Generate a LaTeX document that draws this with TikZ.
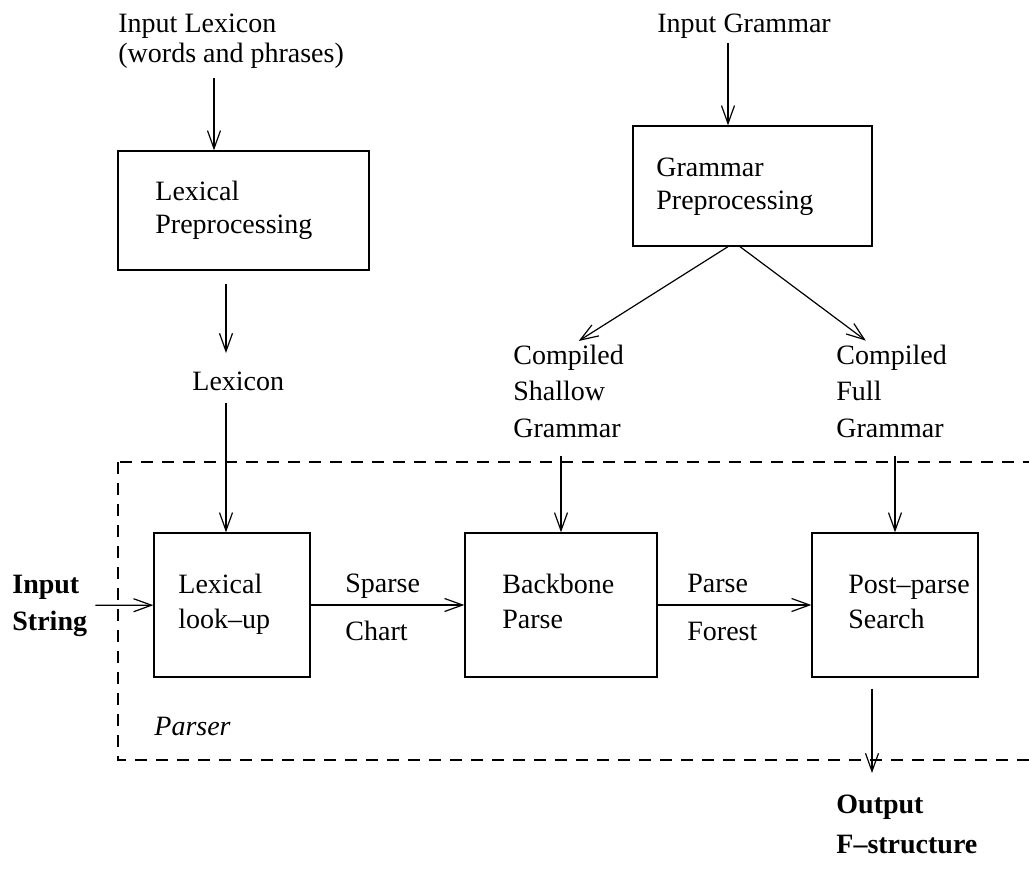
\documentclass[tikz,border=0pt]{standalone}
\usepackage{fontspec}
\setmainfont{Liberation Serif}
\usetikzlibrary{arrows.meta}

\tikzset{
  box/.style={draw, line width=0.65pt, inner sep=0pt},
  txt/.style={align=left, inner sep=0pt, anchor=base west},
  flow/.style={-{Straight Barb[length=9pt,width=6.5pt]}, line width=0.6pt},
}
\newcommand{\sz}[1]{\fontsize{14}{#1}\selectfont}

\begin{document}
\begin{tikzpicture}[x=0.5pt, y=-0.5pt]
    \useasboundingbox (0,0) rectangle (1029,884);

    % inputs and outputs (placed at the baseline of the last line)
    \node[txt, font=\sz{15}] (inlex) at (118, 62) {Input Lexicon\\(words and phrases)};
    \node[txt, font=\sz{17}] (ingram) at (657, 32) {Input Grammar};
    \node[txt, font=\sz{17}] (lexicon) at (192, 390) {Lexicon};
    \node[txt, font=\sz{18.25}] (shallow) at (513, 437) {Compiled\\Shallow\\Grammar};
    \node[txt, font=\sz{18.25}] (full) at (836, 437) {Compiled\\Full\\Grammar};
    \node[txt, font=\sz{18.5}\bfseries] (instring) at (12, 630) {Input\\String};
    \node[txt, font=\sz{20}\bfseries] (output) at (836, 853) {Output\\F--structure};
    \node[txt, font=\sz{24}] (chart) at (345, 640) {Sparse\\Chart};
    \node[txt, font=\sz{24}] (forest) at (687, 640) {Parse\\Forest};
    \node[txt, font=\sz{17}\itshape] (parser) at (154, 735) {Parser};

    % boxes
    \node[box, minimum width=125.5pt, minimum height=59.5pt] (lexpre) at (243.5, 210.5) {};
    \node[box, minimum width=119.5pt, minimum height=60pt] (grampre) at (752.5, 186) {};
    \node[box, minimum width=78pt, minimum height=72pt] (lexlook) at (232, 605) {};
    \node[box, minimum width=96pt, minimum height=72pt] (backbone) at (561, 605) {};
    \node[box, minimum width=83pt, minimum height=72pt] (postparse) at (895, 605) {};

    \node[txt, font=\sz{16.5}] (lexpre-t) at (155, 233) {Lexical\\Preprocessing};
    \node[txt, font=\sz{16.5}] (grampre-t) at (656, 209) {Grammar\\Preprocessing};
    \node[txt, font=\sz{17.5}] (lexlook-t) at (178, 628) {Lexical\\look--up};
    \node[txt, font=\sz{17.5}] (backbone-t) at (502, 628) {Backbone\\Parse};
    \node[txt, font=\sz{17.5}] (postparse-t) at (848, 628) {Post--parse\\Search};

    % parser frame
    \draw[dashed, dash pattern=on 6pt off 4.5pt, line width=0.6pt] (118, 462) rectangle (1045, 760);

    \draw[flow, shorten <=5pt] ([xshift=-14.75pt]lexpre.north |- inlex.south) -- ([xshift=-14.75pt]lexpre.north);
    \draw[flow, shorten <=6.5pt, shorten >=9pt] ([xshift=-8.75pt]lexpre.south) -- ([xshift=-8.75pt]lexpre.south |- lexicon.north);
    \draw[flow, shorten <=6pt] ([xshift=-3pt]lexlook.north |- lexicon.south) -- ([xshift=-3pt]lexlook.north);
    \draw[flow, shorten <=2.5pt] ([xshift=-12.25pt]grampre.north |- ingram.south) -- ([xshift=-12.25pt]grampre.north);
    \draw[flow, shorten >=3pt] ([xshift=-12.25pt]grampre.south) -- ([xshift=2.5pt]shallow.north);
    \draw[flow, shorten >=3pt] ([xshift=-6.25pt]grampre.south) -- ([xshift=-10.5pt]full.north);
    \draw[flow, shorten <=9pt] (backbone.north |- shallow.south) -- (backbone.north);
    \draw[flow, shorten <=9pt] (postparse.north |- full.south) -- (postparse.north);
    \draw[flow, shorten <=4pt] (instring) -- (lexlook);
    \draw[flow] (lexlook) -- (backbone);
    \draw[flow] (backbone) -- (postparse);
    \draw[flow, shorten <=5.5pt, shorten >=10.5pt] ([xshift=-11.5pt]postparse.south) -- ([xshift=-11.5pt]postparse.south |- output.north);
\end{tikzpicture}
\end{document}
